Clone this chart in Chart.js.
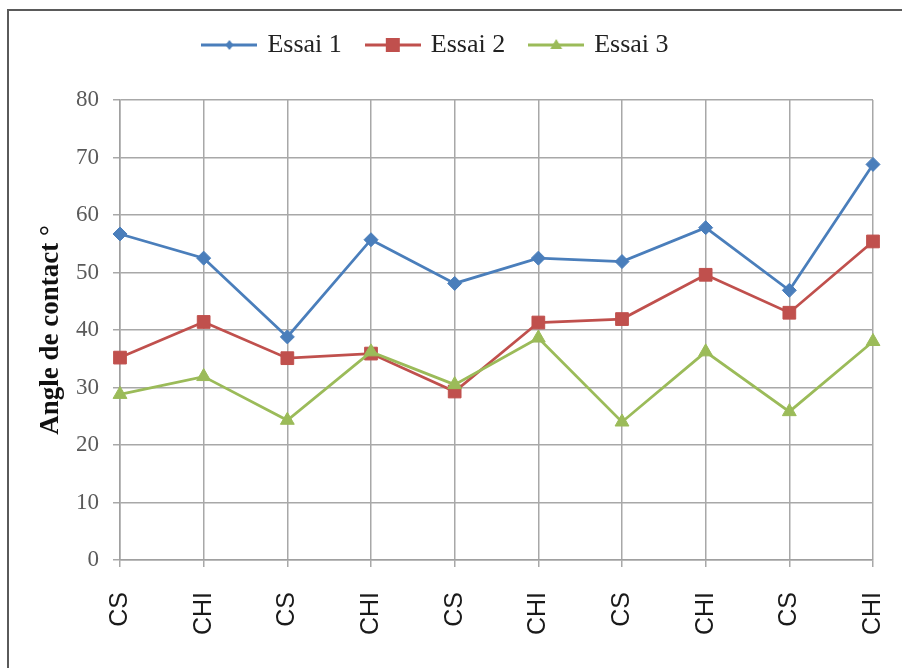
<!DOCTYPE html>
<html>
<head>
<meta charset="utf-8">
<script src="https://cdn.jsdelivr.net/npm/chart.js@4/dist/chart.umd.min.js"></script>
<style>
  html, body { margin: 0; padding: 0; background: #ffffff; overflow: hidden; }
  #wrap { position: relative; width: 902px; height: 668px; }
  #frame { position: absolute; left: 7px; top: 9px; width: 1000px; height: 1000px;
           border: 2px solid #5a5a5a; box-sizing: border-box; }
  #chart { position: absolute; left: 0; top: 0; }
</style>
</head>
<body>
<div id="wrap">
  <div id="frame"></div>
  <canvas id="chart" width="902" height="668"></canvas>
</div>
<script>
// Sample type for each measurement
const categories = ['CS', 'CHI', 'CS', 'CHI', 'CS', 'CHI', 'CS', 'CHI', 'CS', 'CHI'];

// Contact angle (degrees) per trial
const essai1 = [56.7, 52.5, 38.8, 55.7, 48.1, 52.5, 51.9, 57.8, 46.9, 68.8];
const essai2 = [35.2, 41.4, 35.1, 35.9, 29.3, 41.3, 41.9, 49.6, 43.0, 55.4];
const essai3 = [28.8, 31.9, 24.3, 36.2, 30.5, 38.6, 24.0, 36.2, 25.8, 38.0];

const seriesNames = ['Essai 1', 'Essai 2', 'Essai 3'];
const yTicks = [0, 10, 20, 30, 40, 50, 60, 70, 80];

const BLUE = '#4a7ebb';
const RED = '#c0504d';
const GREEN = '#9bbb59';

const SERIF = "'Liberation Serif', 'Times New Roman', serif";
const SANS = "'Liberation Sans', Arial, sans-serif";

// Legend icon: a short line segment with the series marker in the middle
function legendIcon(color, shape) {
  const c = document.createElement('canvas');
  c.width = 56; c.height = 20;
  const g = c.getContext('2d');
  g.strokeStyle = color;
  g.fillStyle = color;
  g.lineWidth = 3;
  g.beginPath(); g.moveTo(0, 10); g.lineTo(56, 10); g.stroke();
  const cx = 28, cy = 10;
  g.beginPath();
  if (shape === 'diamond') {
    g.moveTo(cx, cy - 5); g.lineTo(cx + 4, cy); g.lineTo(cx, cy + 5); g.lineTo(cx - 4, cy);
  } else if (shape === 'square') {
    g.rect(cx - 7, cy - 7, 14, 14);
  } else {
    g.moveTo(cx, cy - 6); g.lineTo(cx + 6, cy + 4); g.lineTo(cx - 6, cy + 4);
  }
  g.closePath(); g.fill();
  return c;
}
const icons = [legendIcon(BLUE, 'diamond'), legendIcon(RED, 'square'), legendIcon(GREEN, 'triangle')];

// Extra room between the legend and the plot area
const legendGap = {
  id: 'legendGap',
  beforeLayout(chart) {
    const lg = chart.legend;
    if (lg && !lg._gapPatched) {
      const fit = lg.fit;
      lg.fit = function () { fit.call(this); this.height += 32; };
      lg._gapPatched = true;
    }
  }
};

function series(label, data, color, style, radius, order) {
  return {
    label, data, order,
    borderColor: color,
    backgroundColor: color,
    borderWidth: 2.75,
    pointStyle: style,
    pointRadius: radius,
    pointHoverRadius: radius,
    pointBackgroundColor: color,
    pointBorderColor: color,
    pointBorderWidth: 1,
    tension: 0,
    fill: false
  };
}

new Chart(document.getElementById('chart'), {
  type: 'line',
  data: {
    labels: categories,
    datasets: [
      series(seriesNames[0], essai1, BLUE, 'rectRot', 7, 3),
      series(seriesNames[1], essai2, RED, 'rect', 9, 2),
      series(seriesNames[2], essai3, GREEN, 'triangle', 8, 1)
    ]
  },
  options: {
    responsive: false,
    animation: false,
    layout: { padding: { top: 6, right: 29, bottom: 0, left: 0 } },
    plugins: {
      tooltip: { enabled: false },
      legend: {
        position: 'top',
        align: 'center',
        labels: {
          usePointStyle: true,
          pointStyleWidth: 50,
          padding: 26,
          color: '#222222',
          font: { family: SERIF, size: 26 },
          sort: (a, b) => a.datasetIndex - b.datasetIndex,
          generateLabels(chart) {
            return chart.data.datasets.map((ds, i) => ({
              text: ds.label,
              datasetIndex: i,
              pointStyle: icons[i],
              fillStyle: ds.borderColor,
              strokeStyle: ds.borderColor,
              lineWidth: 0,
              fontColor: '#222222',
              hidden: !chart.isDatasetVisible(i)
            }));
          }
        }
      }
    },
    scales: {
      x: {
        type: 'category',
        offset: false,
        afterFit(scale) {
          scale.height = 108;
          scale.paddingLeft = 0;
          scale.paddingRight = 29;
        },
        grid: { color: '#a8a8a8', lineWidth: 1.5, tickLength: 7, drawTicks: true },
        border: { color: '#a0a0a0', width: 1.5 },
        ticks: {
          autoSkip: false,
          minRotation: 90,
          maxRotation: 90,
          padding: 25,
          color: '#1a1a1a',
          font: { family: SANS, size: 25 }
        }
      },
      y: {
        min: 0,
        max: 80,
        afterFit(scale) { scale.width = 120; },
        afterBuildTicks(scale) { scale.ticks = yTicks.map(v => ({ value: v })); },
        grid: { color: '#a8a8a8', lineWidth: 1.5, tickLength: 7 },
        border: { color: '#a0a0a0', width: 1.5 },
        ticks: {
          padding: 14,
          color: '#5a5a5a',
          font: { family: SERIF, size: 23 }
        },
        title: {
          display: true,
          text: 'Angle de contact °',
          color: '#111111',
          padding: { top: 35, bottom: 0 },
          font: { family: SERIF, size: 27, weight: 'bold' }
        }
      }
    }
  },
  plugins: [legendGap]
});
</script>
</body>
</html>
